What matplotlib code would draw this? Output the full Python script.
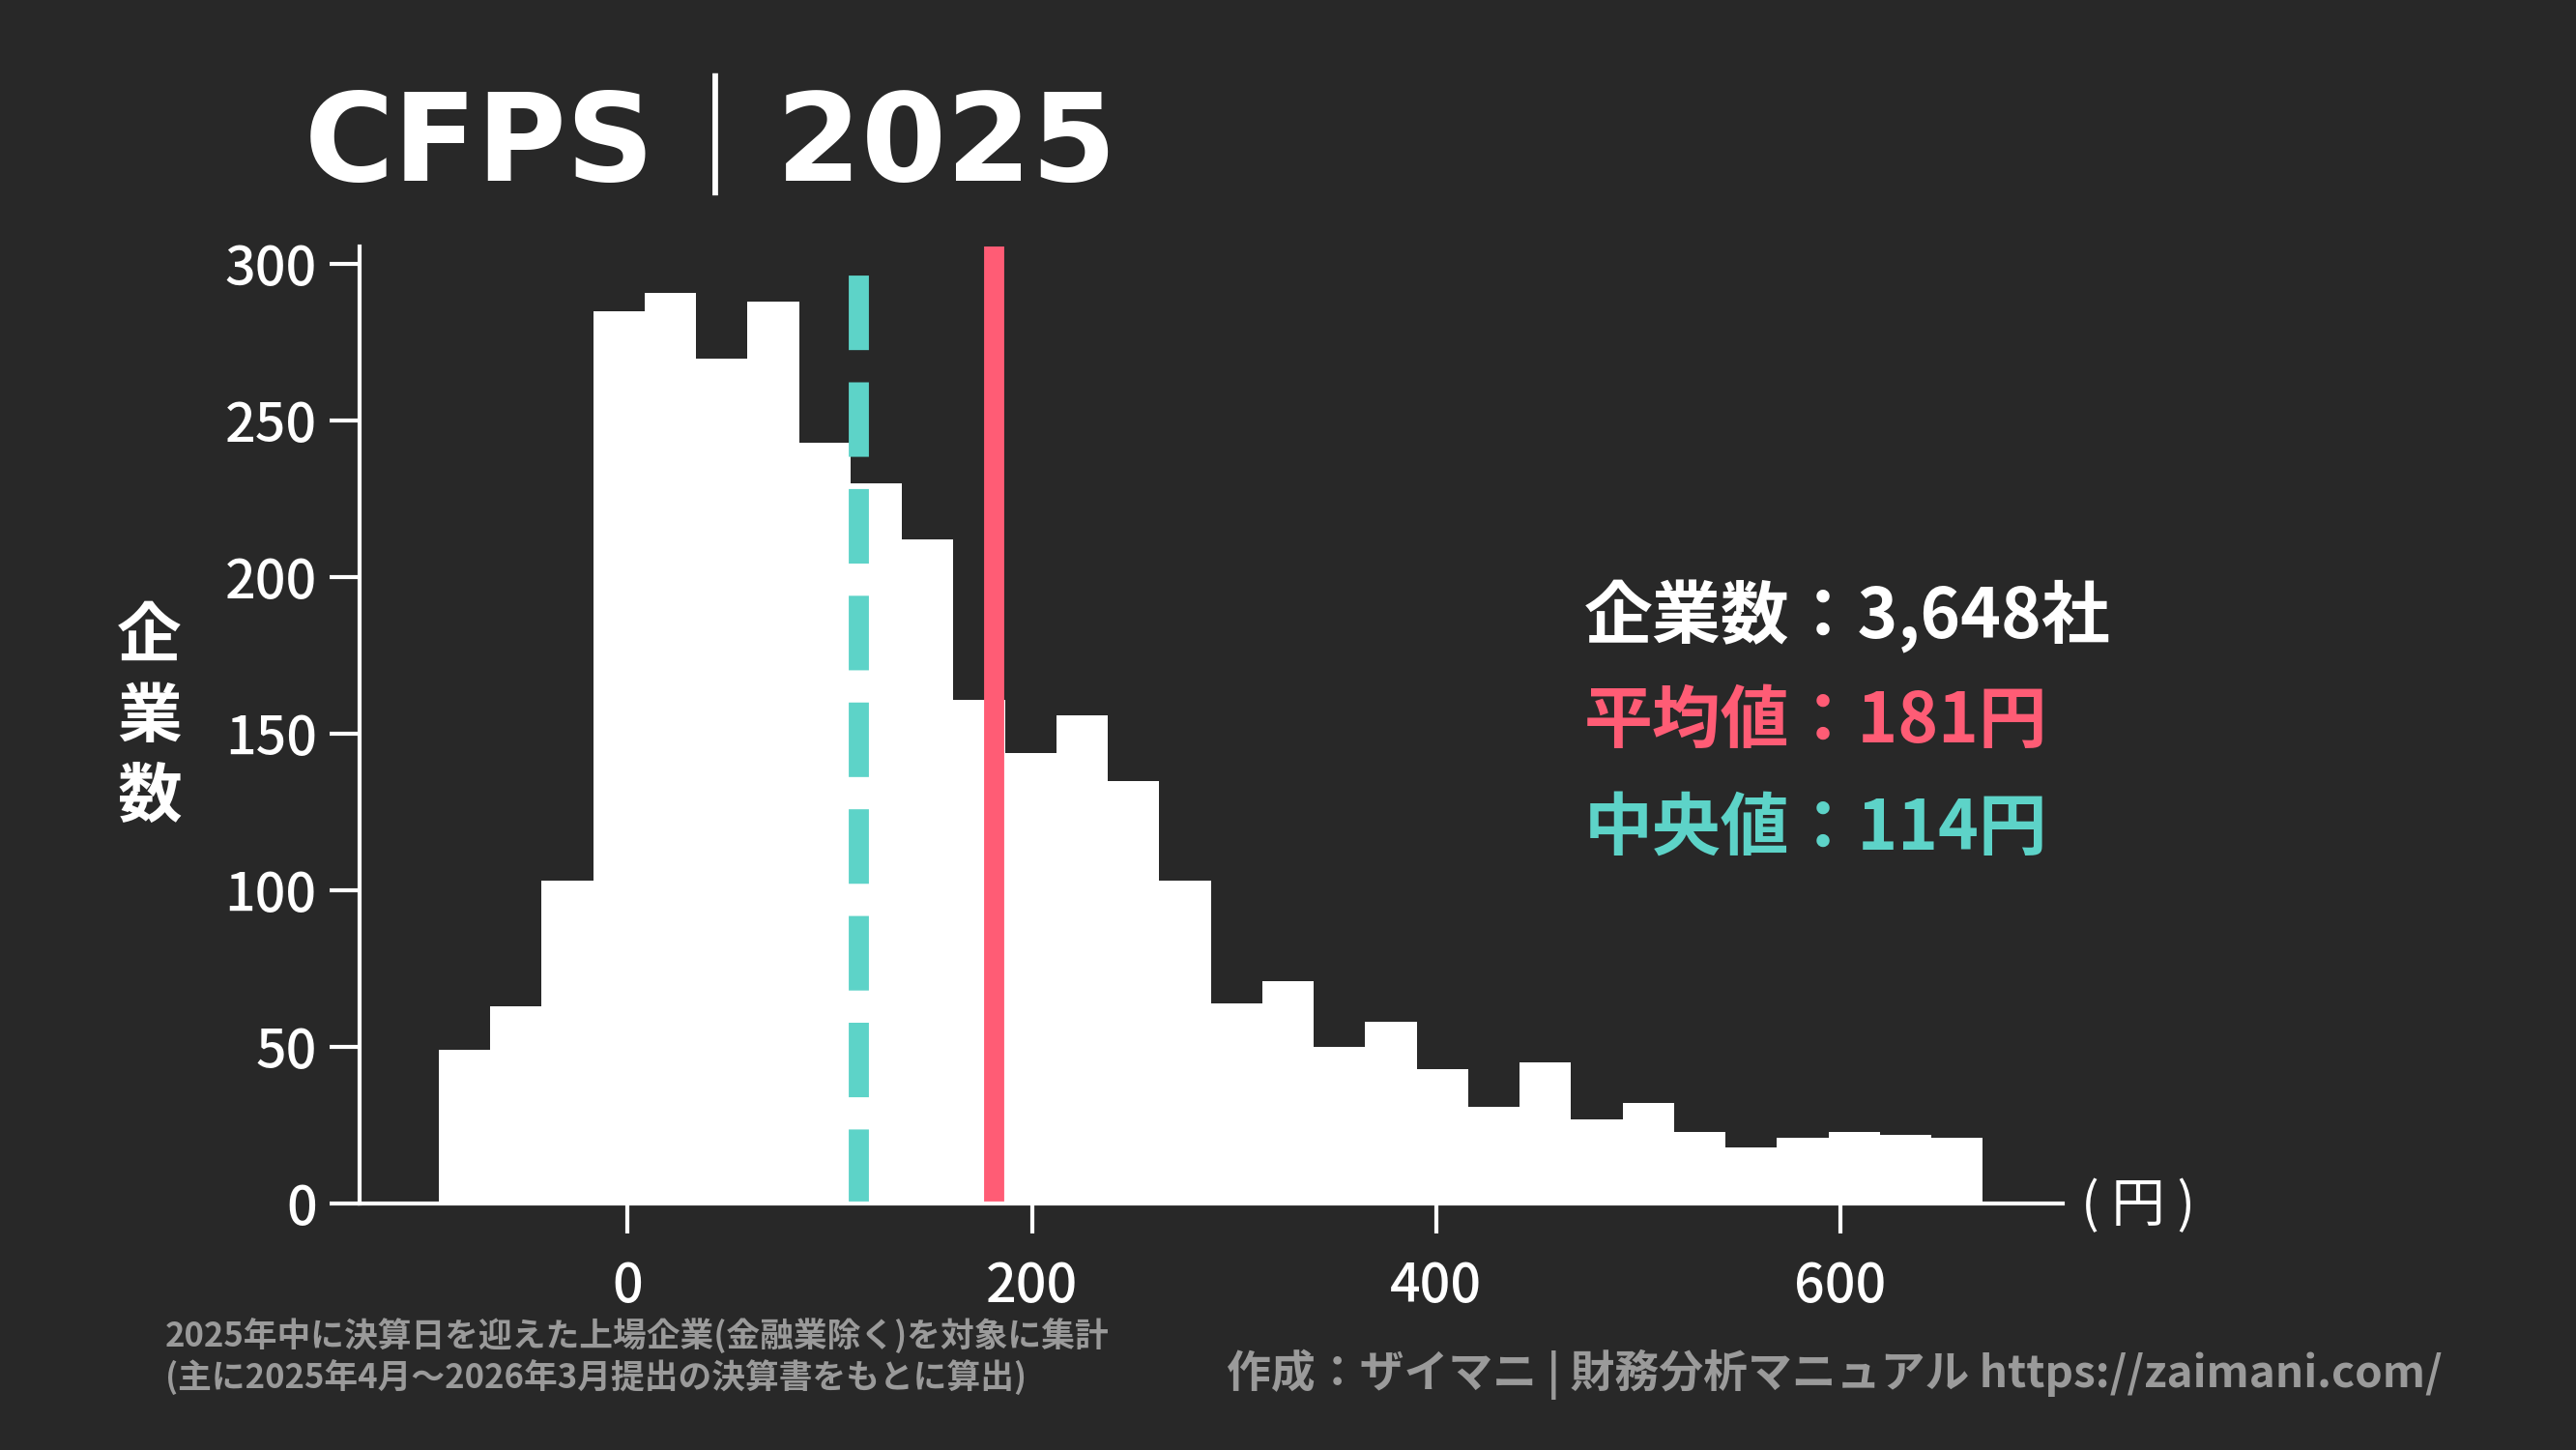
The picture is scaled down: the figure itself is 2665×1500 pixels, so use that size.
import matplotlib
matplotlib.use("Agg")
import matplotlib.pyplot as plt
import numpy as np

plt.rcParams['font.family'] = ['Noto Sans CJK JP', 'DejaVu Sans']

bin_start = -93.5
bin_width = 25.47
counts = [49, 63, 103, 285, 291, 270, 288, 243, 230, 212, 161, 144, 156, 135, 103,
          64, 71, 50, 58, 43, 31, 45, 27, 32, 23, 18, 21, 23, 22, 21]
mean_val = 181
median_val = 114
n_companies = "3,648"
xticks = [0, 200, 400, 600]
yticks = [0, 50, 100, 150, 200, 250, 300]

BG = '#282828'
RED = '#ff5c75'
TEAL = '#5dd3c8'

fig = plt.figure(figsize=(26.65, 15), dpi=100, facecolor=BG)
ax = fig.add_axes([0.1397, 0.170, 0.661, 0.660], facecolor=BG)
edges = bin_start + bin_width * np.arange(len(counts) + 1)
ax.bar(edges[:-1], counts, width=bin_width, align='edge', color='white', linewidth=0)
ax.axvline(mean_val, color=RED, lw=15)
ax.axvline(median_val, color=TEAL, lw=15, dashes=(3.7, 1.6), dash_capstyle='butt')
ax.set_xlim(-132.5, 710)
ax.set_ylim(0, 305.7)
ax.set_xticks(xticks)
ax.set_yticks(yticks)
for s in ['top', 'right']:
    ax.spines[s].set_visible(False)
for s in ['left', 'bottom']:
    ax.spines[s].set_color('white')
    ax.spines[s].set_linewidth(3)
ax.tick_params(colors='white', labelsize=40, width=3, length=22, pad=10)
ax.tick_params(axis='x', pad=20)
for lab in ax.get_xticklabels() + ax.get_yticklabels():
    lab.set_fontweight('medium')

fig.text(0.118, 0.9, 'CFPS｜2025', color='white', fontsize=91, fontweight='bold',
         ha='left', va='center', family=['DejaVu Sans', 'Noto Sans CJK JP'])
fig.text(0.058, 0.505, '企\n業\n数', color='white', fontsize=48, fontweight='bold',
         ha='center', va='center', linespacing=1.3)
fig.text(0.808, 0.168, '( 円 )', color='white', fontsize=40, ha='left', va='center')

fig.text(0.615, 0.575, f'企業数：{n_companies}社', color='white', fontsize=51, fontweight='bold', ha='left', va='center')
fig.text(0.615, 0.502, f'平均値：{mean_val}円', color=RED, fontsize=51, fontweight='bold', ha='left', va='center')
fig.text(0.615, 0.428, f'中央値：{median_val}円', color=TEAL, fontsize=51, fontweight='bold', ha='left', va='center')

fig.text(0.064, 0.064, '2025年中に決算日を迎えた上場企業(金融業除く)を対象に集計\n(主に2025年4月～2026年3月提出の決算書をもとに算出)',
         color='#9a9a9a', fontsize=25, fontweight='bold', ha='left', va='center', linespacing=1.2)
fig.text(0.948, 0.052, '作成：ザイマニ | 財務分析マニュアル https://zaimani.com/',
         color='#9a9a9a', fontsize=33, fontweight='bold', ha='right', va='center')

fig.savefig('out.png', dpi=100, facecolor=BG)
